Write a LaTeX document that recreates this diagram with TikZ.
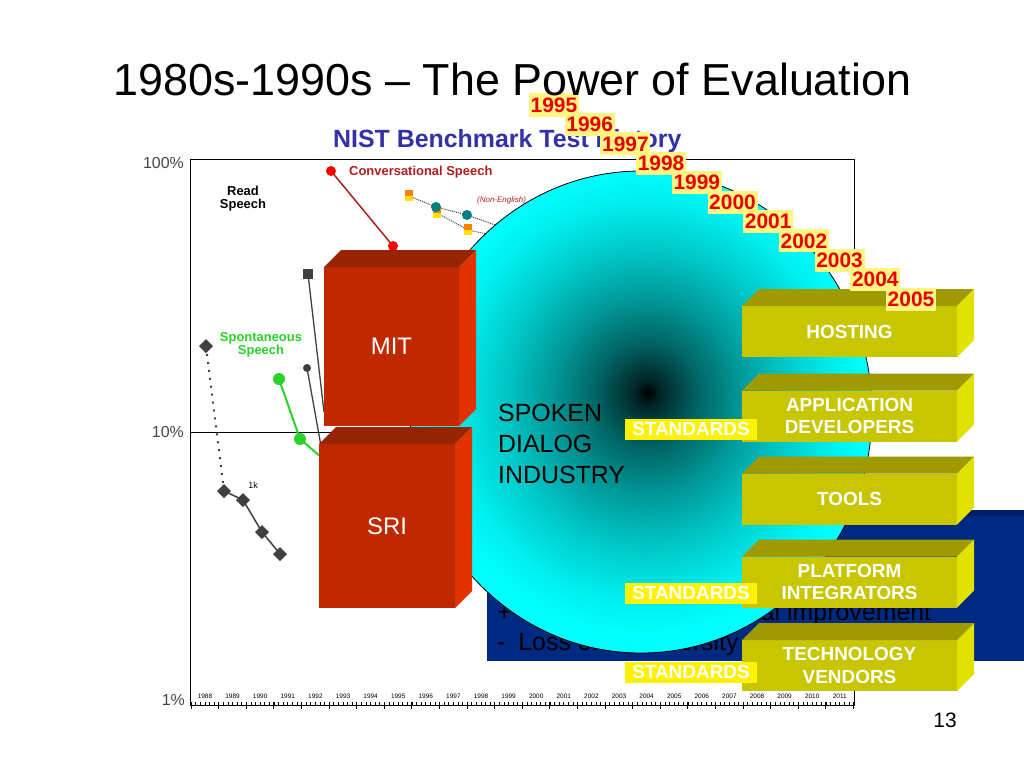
\documentclass[tikz,border=0pt]{standalone}
\usepackage{fontspec}
\setmainfont{Liberation Sans}
\usepackage{graphicx}
\usetikzlibrary{positioning}

\definecolor{mitfront}{RGB}{192,40,0}
\definecolor{mittop}{RGB}{150,36,0}
\definecolor{mitside}{RGB}{226,50,0}
\definecolor{olivefront}{RGB}{200,198,0}
\definecolor{olivetop}{RGB}{158,154,0}
\definecolor{oliveside}{RGB}{226,226,0}
\definecolor{navy}{RGB}{0,42,130}
\definecolor{navytop}{RGB}{0,32,105}
\definecolor{paleyellow}{RGB}{255,245,130}
\definecolor{yearred}{RGB}{232,0,0}
\definecolor{nistblue}{RGB}{50,50,165}
\definecolor{convred}{RGB}{175,30,30}
\definecolor{spongreen}{RGB}{40,210,40}
\definecolor{dotteal}{RGB}{0,128,128}
\definecolor{axisgray}{RGB}{70,70,70}
\definecolor{sphA}{RGB}{0,40,40}
\definecolor{sphB}{RGB}{0,100,100}
\definecolor{sphC}{RGB}{0,150,150}
\definecolor{sphD}{RGB}{0,200,200}
\definecolor{sphE}{RGB}{0,240,240}

\pgfdeclareradialshading{sphereshade}{\pgfpoint{0.7bp}{2bp}}{%
  color(0bp)=(black); color(1.5bp)=(sphA); color(5.5bp)=(sphB);
  color(10bp)=(sphC); color(15.5bp)=(sphD); color(21bp)=(sphE);
  color(24.5bp)=(cyan); color(50bp)=(cyan)}

% top and right faces of a block drawn on a front node
\newcommand{\blockfaces}[3]{%
  \fill[#2] (#1.north west) -- ++(17,-17) -- ([shift={(17,-17)}]#1.north east) -- (#1.north east) -- cycle;
  \fill[#3] (#1.north east) -- ++(17,-17) -- ([shift={(17,-17)}]#1.south east) -- (#1.south east) -- cycle;}

\tikzset{
  redblock/.style={fill=mitfront, text=white, inner sep=0, outer sep=0, font=\fontsize{24}{28}\selectfont},
  oliveblock/.style={fill=olivefront, text=white, inner sep=0, outer sep=0, align=center,
    minimum width=215bp, minimum height=51bp, font=\bfseries\fontsize{19}{23}\selectfont},
  stdlabel/.style={fill=yellow, text=white, inner sep=0, minimum width=132bp, minimum height=21bp,
    font=\bfseries\fontsize{19}{21}\selectfont},
  yearlabel/.style={fill=paleyellow, text=yearred, inner sep=0, minimum width=50bp, minimum height=23bp,
    font=\bfseries\fontsize{21}{23}\selectfont},
  pctlabel/.style={anchor=east, text=axisgray, inner sep=0, font=\fontsize{16}{18}\selectfont},
  ticklabel/.style={inner sep=0, font=\fontsize{6.5}{7}\selectfont},
  chartline/.style={black, line width=0.8bp}
}

\begin{document}
\begin{tikzpicture}[x=1bp, y=-1bp]
\fill[white] (0,0) rectangle (1024,768);
\useasboundingbox (0,0) rectangle (1024,768);

% chart
\node[anchor=west, text=nistblue, inner sep=0, font=\bfseries\fontsize{25}{28}\selectfont] (nist) at (333,141) {NIST Benchmark Test History};
\draw[chartline] (190,159) rectangle (854,705);
\draw[chartline] (190,432) -- (854,432);
\node[pctlabel] (p100) at (184,163) {100\%};
\node[pctlabel] (p10) at (184,432) {10\%};
\node[pctlabel] (p1) at (185,700) {1\%};
\foreach \i in {0,...,24}
  \draw[chartline] (191+27.6*\i,702) -- (191+27.6*\i,709);
\foreach \j in {0,...,143}
  \draw[black, line width=0.5bp] (191+4.6*\j,705) -- (191+4.6*\j,702);
\foreach \yr [count=\i from 0] in {1988,...,2011}
  \node[ticklabel] (t\yr) at (205+27.6*\i,696) {\yr};

\node[inner sep=0, align=center, font=\bfseries\fontsize{13}{13}\selectfont] (readlbl) at (243,199) {Read\\Speech};
\node[anchor=west, inner sep=0, text=convred, font=\bfseries\fontsize{13}{15}\selectfont] (convlbl) at (349,172) {Conversational Speech};
\node[anchor=west, inner sep=0, text=convred, font=\itshape\fontsize{8}{9}\selectfont] (nonenglbl) at (477,200) {(Non-English)};
\node[inner sep=0, align=center, text=spongreen, font=\bfseries\fontsize{13}{12}\selectfont] (sponlbl) at (261,345) {Spontaneous\\Speech};
\node[inner sep=0, font=\fontsize{9}{10}\selectfont] (onek) at (253,485) {1k};

\draw[convred, line width=1.5bp] (331,171) -- (393,246);
\fill[red] (331,171) circle (5bp) (393,246) circle (5bp);
\draw[darkgray, line width=1.3bp] (308,274) -- (324,412);
\fill[darkgray] (303,269) rectangle (313,279);
\draw[darkgray, line width=1.3bp] (307,368) -- (321,446);
\fill[darkgray] (307,368) circle (4bp);
\draw[spongreen, line width=2bp] (279,379) -- (300,439) -- (321,457);
\fill[spongreen] (279,379) circle (6bp) (300,439) circle (6bp);
\draw[darkgray, line width=2bp, dash pattern=on 2bp off 6bp] (206,346) -- (224,491);
\draw[darkgray, line width=1.5bp] (224,491) -- (243,500) -- (262,532) -- (280,554);
\foreach \p in {(206,346),(224,491),(243,500),(262,532),(280,554)}
  \fill[darkgray] \p ++(-7,0) -- ++(7,-7) -- ++(7,7) -- ++(-7,7) -- cycle;
\draw[darkgray, densely dotted, line width=1bp] (409,196) -- (436,207) -- (467,215) -- (515,232);
\draw[darkgray, densely dotted, line width=1bp] (437,213) -- (468,230) -- (515,240);
\foreach \p in {(409,196),(437,213),(468,230)} {
  \fill[orange] \p ++(-4,-6) rectangle ++(8,6);
  \fill[yellow!85!orange] \p ++(-4,0) rectangle ++(8,5);
}
\fill[dotteal] (436,207) circle (5bp) (467,215) circle (5bp);

% blue panel
\fill[navy] (487,510) rectangle (1024,661);
\fill[navytop] (487,510) rectangle (1024,516);
\node[anchor=base west, inner sep=0, font=\fontsize{25}{30}\selectfont] (plus) at (497,620) {+ Continuous incremental improvement};
\node[anchor=base west, inner sep=0, font=\fontsize{25}{30}\selectfont] (minus) at (497,650) {-\hspace{6bp} Loss of bio-diversity};

% industry sphere
\shadedraw[shading=sphereshade, draw=black, line width=0.8bp] (641,412) ellipse [x radius=231bp, y radius=241bp];
\node[anchor=north west, align=left, inner sep=0, font=\fontsize{25}{31}\selectfont] (spoken) at (498,404) {SPOKEN\\DIALOG\\INDUSTRY};

% labs
\node[redblock, minimum width=135bp, minimum height=159bp] (mit) at (391.5,346.5) {MIT};
\blockfaces{mit}{mittop}{mitside}
\node[redblock, minimum width=136bp, minimum height=164bp] (sri) at (387,526) {SRI};
\blockfaces{sri}{mittop}{mitside}

% industry layers
\node[oliveblock] (hosting) at (849.5,331.5) {HOSTING};
\blockfaces{hosting}{olivetop}{oliveside}
\node[oliveblock] (appdev) at (849.5,416) {APPLICATION\\DEVELOPERS};
\blockfaces{appdev}{olivetop}{oliveside}
\node[oliveblock] (tools) at (849.5,499) {TOOLS};
\blockfaces{tools}{olivetop}{oliveside}
\node[oliveblock] (platform) at (849.5,582) {PLATFORM\\INTEGRATORS};
\blockfaces{platform}{olivetop}{oliveside}
\node[oliveblock] (techvend) at (849.5,665.5) {TECHNOLOGY\\VENDORS};
\blockfaces{techvend}{olivetop}{oliveside}

\node[stdlabel] (std1) at (691,429) {STANDARDS};
\node[stdlabel] (std2) at (691,593) {STANDARDS};
\node[stdlabel] (std3) at (691,672) {STANDARDS};

% years
\foreach \yr [count=\i from 0] in {1995,...,2005}
  \node[yearlabel] (y\yr) at (554+35.7*\i,105+19.4*\i) {\yr};

\node[anchor=base, inner sep=0, font=\fontsize{45}{54}\selectfont] (title) at (512.5,96) {1980s-1990s – The Power of Evaluation};
\node[inner sep=0, font=\fontsize{21}{24}\selectfont] (pagenum) at (945,720) {13};
\end{tikzpicture}
\end{document}
